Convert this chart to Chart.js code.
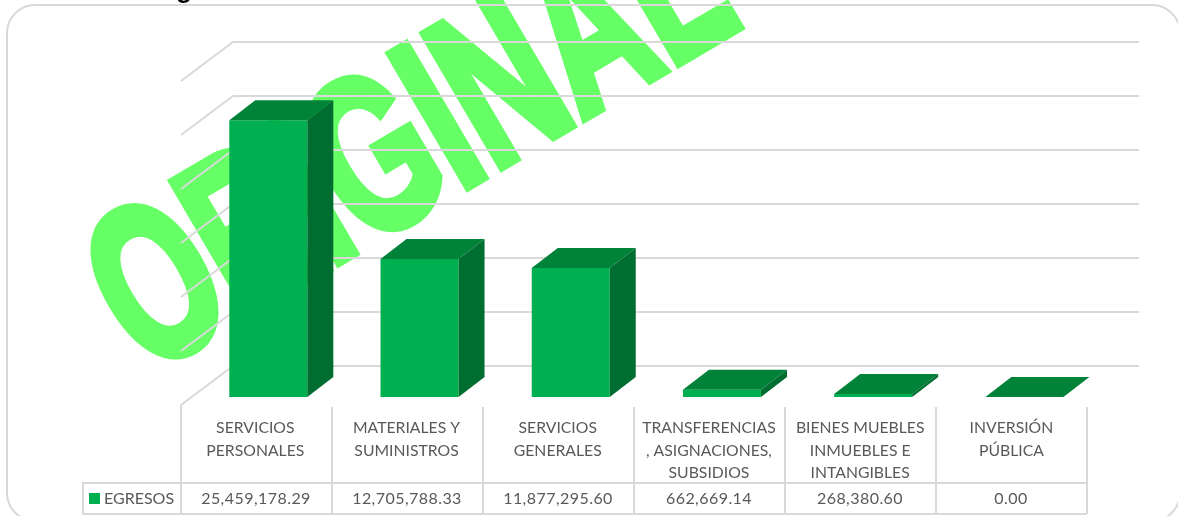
<!DOCTYPE html>
<html><head><meta charset="utf-8">
<style>html,body{margin:0;padding:0;background:#fff;overflow:hidden}#w{width:1178px;height:516px;position:relative}</style>
<script src="https://cdn.jsdelivr.net/npm/chart.js@4"></script>
</head><body><div id="w"><canvas id="c" width="1178" height="516"></canvas></div>
<script>
const categories = [
  ["SERVICIOS","PERSONALES"],
  ["MATERIALES Y","SUMINISTROS"],
  ["SERVICIOS","GENERALES"],
  ["TRANSFERENCIAS",", ASIGNACIONES,","SUBSIDIOS"],
  ["BIENES MUEBLES","INMUEBLES E","INTANGIBLES"],
  ["INVERSIÓN","PÚBLICA"]
];
const egresos = [25459178.29, 12705788.33, 11877295.60, 662669.14, 268380.60, 0.00];
const seriesName = "EGRESOS";
const axisMax = 30000000;
const axisStep = 5000000;
const watermark = "ORIGINAL";
const titleFragment = "g";

const GRID = "#D9D9D9", TXT = "#595959", FRONT = "#00B050", TOP = "#008238", SIDE = "#006E31";
const FONT = "Lato, Carlito, sans-serif";
const FLOOR_DX = 52, FLOOR_DY = 39;   // depth of the floor
const BAR_DX = 26, BAR_DY = 20;       // depth of a bar
const OFF_LEFT = 11.7, OFF_RIGHT = 13, OFF_Y = 8; // bars sit this far inside the floor
const WALL_SCALE = 324/326;           // back wall is slightly smaller than the bar plane
const TBL_Y0 = 407, TBL_Y1 = 483, TBL_Y2 = 514, TBL_L = 83;

function poly(ctx, pts, fill){
  ctx.beginPath(); pts.forEach((p,i)=> i?ctx.lineTo(p[0],p[1]):ctx.moveTo(p[0],p[1])); ctx.closePath();
  ctx.fillStyle = fill; ctx.fill();
}
const scene = {
  id:"scene",
  beforeDatasetsDraw(chart){
    const {ctx, scales:{x,y}} = chart;
    ctx.save();
    // watermark
    ctx.save();
    ctx.beginPath(); ctx.rect(0,0,1178,516); ctx.clip();
    ctx.translate(146,375); ctx.rotate(-30.4*Math.PI/180); ctx.scale(0.639,1);
    ctx.font = "bold 222px 'Liberation Sans'"; ctx.fillStyle = "#66FF66"; ctx.strokeStyle="#66FF66";
    ctx.lineWidth = 10; ctx.lineJoin="miter";
    ctx.textBaseline="alphabetic"; ctx.textAlign="left";
    ctx.fillText(watermark,0,0); ctx.strokeText(watermark,0,0);
    ctx.restore();
    // visible tail of the cropped title
    ctx.font = "bold 26px 'Liberation Sans'"; ctx.fillStyle="#000"; ctx.textAlign="left"; ctx.textBaseline="alphabetic";
    ctx.fillText(titleFragment,176,-2);
    // frame
    ctx.strokeStyle = GRID; ctx.lineWidth = 2;
    ctx.beginPath(); ctx.roundRect(7,5,1173,516,28); ctx.stroke();
    // gridlines: side wall + back wall
    const L = x.left - OFF_LEFT, R = x.right - OFF_RIGHT, base = y.getPixelForValue(0);
    ctx.strokeStyle = GRID; ctx.lineWidth = 2;
    y.ticks.forEach(t=>{
      const py = base + (y.getPixelForValue(t.value)-base)*WALL_SCALE + OFF_Y;
      ctx.beginPath(); ctx.moveTo(L,py); ctx.lineTo(L+FLOOR_DX,py-FLOOR_DY); ctx.lineTo(R+FLOOR_DX,py-FLOOR_DY); ctx.stroke();
    });
    // data table
    const step = (R-L)/categories.length;
    ctx.beginPath();
    for(let i=0;i<=categories.length;i++){
      const px = Math.round(L+i*step);
      ctx.moveTo(px, i===0 ? base+OFF_Y : TBL_Y0); ctx.lineTo(px,TBL_Y2);
    }
    ctx.moveTo(TBL_L,TBL_Y1); ctx.lineTo(R,TBL_Y1);
    ctx.moveTo(TBL_L,TBL_Y2); ctx.lineTo(R,TBL_Y2);
    ctx.moveTo(TBL_L,TBL_Y1-1); ctx.lineTo(TBL_L,TBL_Y2+1);
    ctx.stroke();
    ctx.font = "16px "+FONT; ctx.fillStyle = TXT; ctx.textAlign="center"; ctx.textBaseline="middle";
    ctx.letterSpacing = "0.45px";
    egresos.forEach((v,i)=>{
      ctx.fillText(v.toLocaleString("en-US",{minimumFractionDigits:2,maximumFractionDigits:2}), L+(i+.5)*step-0.5, 498.5);
    });
    ctx.letterSpacing = "0px";
    ctx.textAlign="left";
    ctx.fillText(seriesName,104,498.5);
    ctx.fillStyle = FRONT; ctx.fillRect(89,493,11,11);
    ctx.restore();
  },
  afterDatasetsDraw(chart){
    const ctx = chart.ctx;
    ctx.save();
    chart.getDatasetMeta(0).data.forEach(b=>{
      const l=b.x-b.width/2, r=b.x+b.width/2, t=b.y, g=b.base;
      poly(ctx,[[l,t],[r,t],[r+BAR_DX,t-BAR_DY],[l+BAR_DX,t-BAR_DY]],TOP);
      poly(ctx,[[r,t],[r+BAR_DX,t-BAR_DY],[r+BAR_DX,g-BAR_DY],[r,g]],SIDE);
    });
    ctx.restore();
  }
};
new Chart(document.getElementById("c"),{
  type:"bar",
  data:{labels:categories,datasets:[{label:seriesName,data:egresos,backgroundColor:FRONT,borderWidth:0,categoryPercentage:1,barPercentage:0.516}]},
  plugins:[scene],
  options:{
    responsive:false,animation:false,
    layout:{padding:{left:192.7,right:78,top:71,bottom:0}},
    plugins:{legend:{display:false},title:{display:false},tooltip:{enabled:false}},
    scales:{
      x:{
        afterFit(s){s.height=119;},
        grid:{display:false,drawTicks:false},border:{display:false},
        ticks:{color:TXT,font:{family:FONT,size:15.75,lineHeight:1.42},padding:20,labelOffset:-13,maxRotation:0,minRotation:0,autoSkip:false}
      },
      y:{
        display:false,min:0,max:axisMax,
        ticks:{stepSize:axisStep}
      }
    }
  }
});
</script></body></html>
